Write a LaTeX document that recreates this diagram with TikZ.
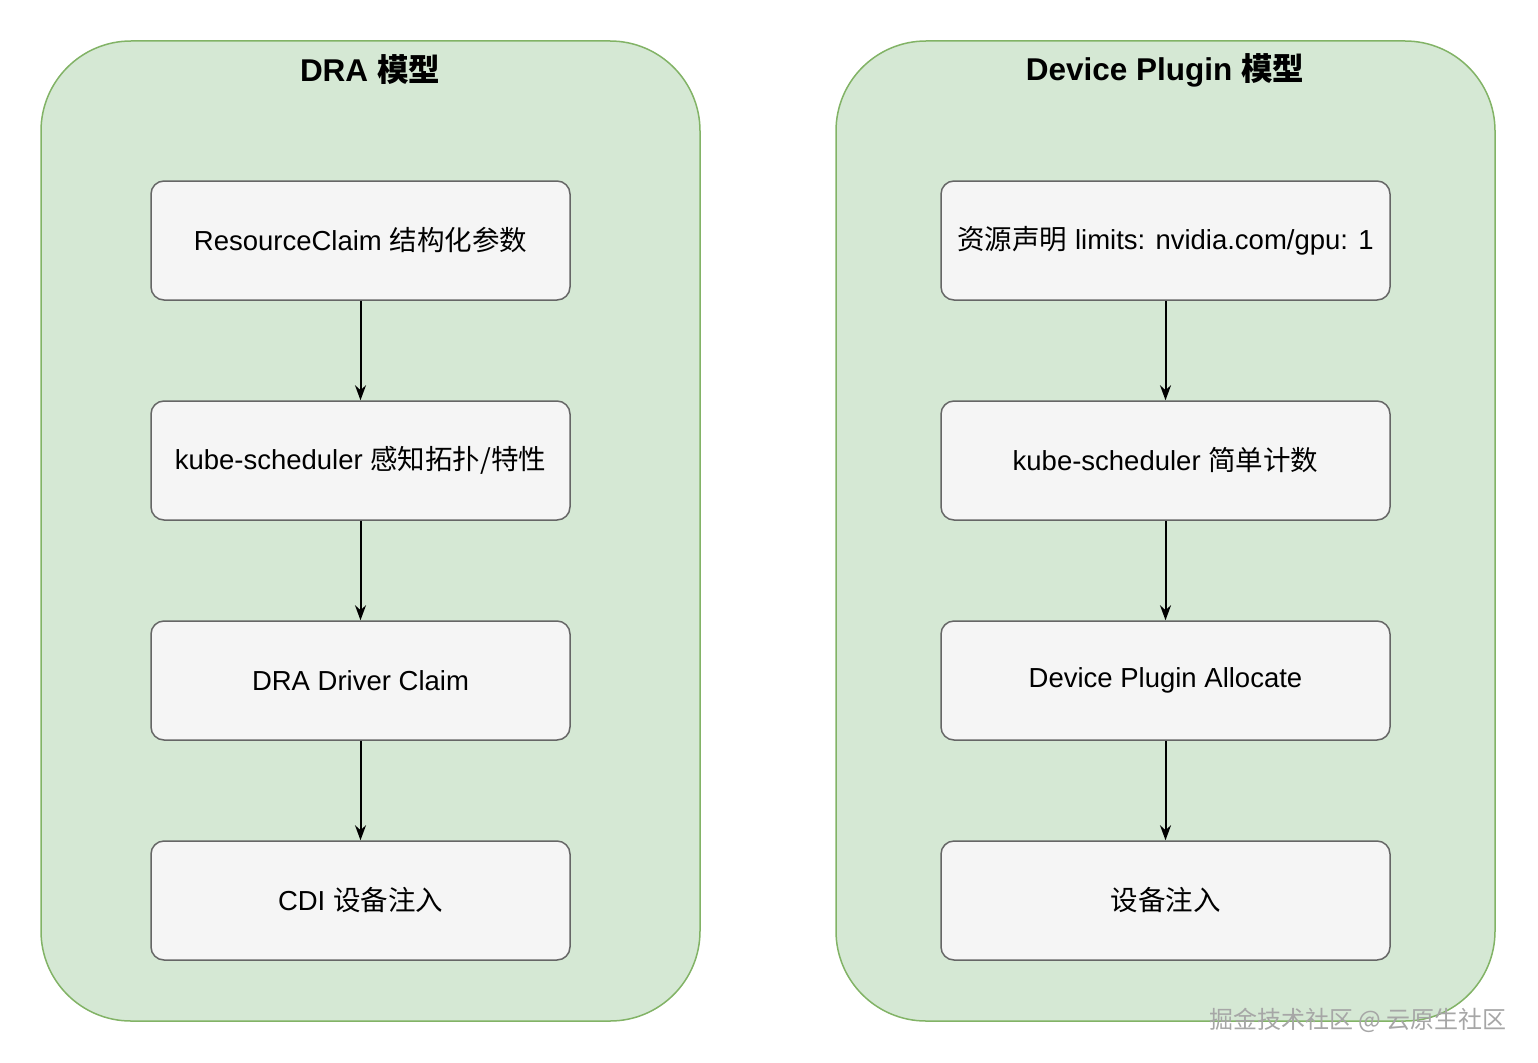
\documentclass[tikz,border=0pt]{standalone}
\usepackage{fontspec}
\setmainfont{Liberation Sans}
\newfontfamily\cjk{Noto Sans CJK SC}
\usetikzlibrary{arrows.meta}
\definecolor{panelfill}{HTML}{D5E8D4}
\definecolor{paneldraw}{HTML}{82B366}
\definecolor{boxfill}{HTML}{F5F5F5}
\definecolor{boxdraw}{HTML}{666666}
\newcommand{\zh}[1]{{\cjk #1}}
\begin{document}
\begin{tikzpicture}[x=1pt,y=-1pt]
% Styles
\tikzset{panneau/.style={fill=panelfill,draw=paneldraw,line width=1.5pt,rounded corners=90pt},
  boite/.style={fill=boxfill,draw=boxdraw,line width=1.5pt,rounded corners=13pt,
    minimum height=119pt,inner sep=0pt,font=\fontsize{27.5}{32}\selectfont},
  titre/.style={font=\fontsize{31.5}{38}\bfseries\selectfont},
  fleche/.style={-{Stealth[length=15pt,width=11pt]},line width=2pt}}
\useasboundingbox (0,0) rectangle (1538,1062);
% Panneaux
\draw[panneau] (41,41) rectangle (700,1021);
\draw[panneau] (836,41) rectangle (1495,1021);
\node[titre] (tA) at (370,70) {DRA \zh{模型}};
\node[titre] (tB) at (1165,70) {Device Plugin \zh{模型}};
% Noeuds
\node[boite,minimum width=419pt] (A1) at (360.5,240.5) {ResourceClaim \zh{结构化参数}};
\node[boite,minimum width=419pt] (A2) at (360.5,460.5) {kube-scheduler \zh{感知拓扑/特性}};
\node[boite,minimum width=419pt] (A3) at (360.5,680.5) {DRA Driver Claim};
\node[boite,minimum width=419pt] (A4) at (360.5,900.5) {CDI \zh{设备注入}};
\node[boite,minimum width=449pt] (B1) at (1165.5,240.5) {\zh{资源声明} limits: nvidia.com/gpu: 1};
\node[boite,minimum width=449pt] (B2) at (1165.5,460.5) {kube-scheduler \zh{简单计数}};
\node[boite,minimum width=449pt] (B3) at (1165.5,680.5) {Device Plugin Allocate};
\node[boite,minimum width=449pt] (B4) at (1165.5,900.5) {\zh{设备注入}};
% Arcs
\draw[fleche] (A1)--(A2);
\draw[fleche] (A2)--(A3);
\draw[fleche] (A3)--(A4);
\draw[fleche] (B1)--(B2);
\draw[fleche] (B2)--(B3);
\draw[fleche] (B3)--(B4);
\node[anchor=east,text=gray!70,font=\cjk\fontsize{24}{28}\selectfont] (wm) at (1510,1020) {掘金技术社区 @ 云原生社区};
\end{tikzpicture}
\end{document}
